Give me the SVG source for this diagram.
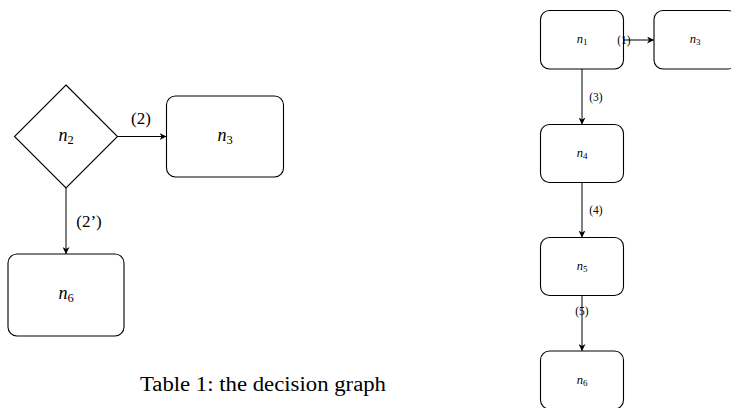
<svg xmlns="http://www.w3.org/2000/svg" width="731" height="408" viewBox="0 0 731 408">
  <defs>
    <marker id="arrow" viewBox="0 0 10 10" refX="10" refY="5" markerWidth="7" markerHeight="7" markerUnits="userSpaceOnUse" orient="auto">
      <path d="M0,0 L10,5 L0,10 L3,5 Z" fill="#000"/>
    </marker>
  </defs>
  <style>
    .box { fill: #fff; stroke: #000; stroke-width: 1.1; }
    .edge { fill: none; stroke: #000; stroke-width: 1; marker-end: url(#arrow); }
    .big { font-family: "Liberation Serif", "DejaVu Serif", serif; font-size: 18px; fill: #000; }
    .small { font-family: "Liberation Serif", "DejaVu Serif", serif; font-size: 12.5px; fill: #000; }
    .lbl { font-family: "Liberation Serif", "DejaVu Serif", serif; font-size: 17px; fill: #000; }
    .slbl { font-family: "Liberation Serif", "DejaVu Serif", serif; font-size: 11.5px; fill: #000; }
    .cap { font-family: "Liberation Serif", "DejaVu Serif", serif; font-size: 20px; fill: #000; }
    .sub { font-style: normal; }
  </style>

  <!-- left decision graph -->
  <g id="L-n2">
    <polygon class="box" points="66,85 117.5,136.5 66,188 14.5,136.5"/>
    <text class="big" x="66" y="141" text-anchor="middle"><tspan font-style="italic">n</tspan><tspan class="sub" font-size="12.5" dy="3">2</tspan></text>
  </g>
  <g id="L-n3">
    <rect class="box" x="166.5" y="96" width="117" height="81" rx="9"/>
    <text class="big" x="225" y="141" text-anchor="middle"><tspan font-style="italic">n</tspan><tspan class="sub" font-size="12.5" dy="3">3</tspan></text>
  </g>
  <g id="L-n6">
    <rect class="box" x="8" y="254" width="116" height="82" rx="9"/>
    <text class="big" x="66" y="299" text-anchor="middle"><tspan font-style="italic">n</tspan><tspan class="sub" font-size="12.5" dy="3">6</tspan></text>
  </g>

  <!-- right chain -->
  <g id="R-n1">
    <rect class="box" x="540.5" y="10.5" width="83" height="58.5" rx="9"/>
    <text class="small" x="582" y="43" text-anchor="middle"><tspan font-style="italic">n</tspan><tspan class="sub" font-size="9" dy="2">1</tspan></text>
  </g>
  <g id="R-n3">
    <rect class="box" x="654" y="10.5" width="83" height="58.5" rx="9"/>
    <text class="small" x="695" y="43" text-anchor="middle"><tspan font-style="italic">n</tspan><tspan class="sub" font-size="9" dy="2">3</tspan></text>
  </g>
  <g id="R-n4">
    <rect class="box" x="540.5" y="124.5" width="83" height="58" rx="9"/>
    <text class="small" x="582" y="157" text-anchor="middle"><tspan font-style="italic">n</tspan><tspan class="sub" font-size="9" dy="2">4</tspan></text>
  </g>
  <g id="R-n5">
    <rect class="box" x="540.5" y="237.5" width="83" height="58" rx="9"/>
    <text class="small" x="582" y="270" text-anchor="middle"><tspan font-style="italic">n</tspan><tspan class="sub" font-size="9" dy="2">5</tspan></text>
  </g>
  <g id="R-n6">
    <rect class="box" x="540.5" y="351" width="83" height="58" rx="9"/>
    <text class="small" x="582" y="384" text-anchor="middle"><tspan font-style="italic">n</tspan><tspan class="sub" font-size="9" dy="2">6</tspan></text>
  </g>

  <!-- connectors -->
  <g id="connectors">
    <line class="edge" x1="117.5" y1="136.5" x2="166.5" y2="136.5"/>
    <line class="edge" x1="66" y1="188" x2="66" y2="254"/>
    <line class="edge" x1="623.5" y1="40" x2="654" y2="40"/>
    <line class="edge" x1="582" y1="69" x2="582" y2="124.5"/>
    <line class="edge" x1="582" y1="182.5" x2="582" y2="237.5"/>
    <line class="edge" x1="582" y1="295.5" x2="582" y2="351"/>
  </g>

  <!-- connector labels -->
  <text class="lbl" x="141" y="124" text-anchor="middle">(2)</text>
  <text class="lbl" x="89" y="227" text-anchor="middle">(2’)</text>
  <text class="slbl" x="624" y="44" text-anchor="middle">(1)</text>
  <text class="slbl" x="596" y="101" text-anchor="middle">(3)</text>
  <text class="slbl" x="596" y="214" text-anchor="middle">(4)</text>
  <text class="slbl" x="582" y="315" text-anchor="middle">(5)</text>

  <!-- caption -->
  <text class="cap" x="140" y="391" textLength="246" lengthAdjust="spacingAndGlyphs">Table 1: the decision graph</text>
</svg>
